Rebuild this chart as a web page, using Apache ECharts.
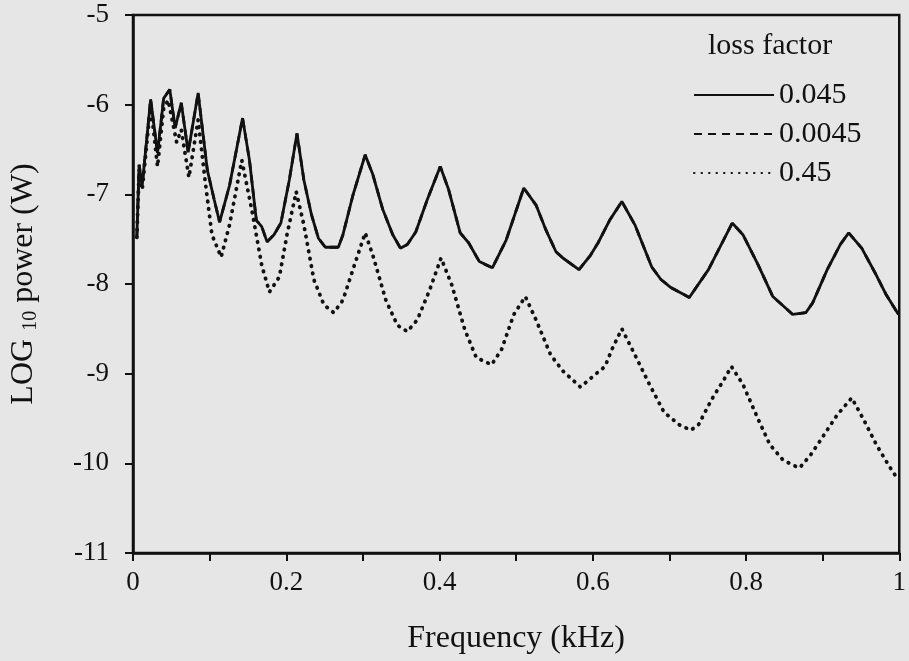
<!DOCTYPE html>
<html>
<head>
<meta charset="utf-8">
<script src="https://cdn.jsdelivr.net/npm/echarts@6/dist/echarts.min.js"></script>
<style>
  html, body { margin: 0; padding: 0; background: #e6e6e6; }
  #chart-container { width: 909px; height: 661px; }
</style>
</head>
<body>
<div id="chart-container"></div>
<script>
'use strict';

// frequency (kHz), log10 power (W)
const freq045 = [0.005, 0.008, 0.012, 0.023, 0.032, 0.040, 0.048, 0.055, 0.063, 0.072, 0.085, 0.097, 0.106, 0.113, 0.126, 0.143, 0.152, 0.161, 0.168, 0.175, 0.184, 0.193, 0.204, 0.214, 0.223, 0.233, 0.242, 0.251, 0.268, 0.274, 0.287, 0.303, 0.313, 0.326, 0.339, 0.349, 0.358, 0.369, 0.384, 0.401, 0.412, 0.427, 0.438, 0.452, 0.469, 0.487, 0.510, 0.526, 0.539, 0.552, 0.561, 0.582, 0.597, 0.607, 0.622, 0.638, 0.655, 0.677, 0.689, 0.702, 0.726, 0.751, 0.782, 0.796, 0.816, 0.835, 0.861, 0.878, 0.887, 0.906, 0.923, 0.934, 0.951, 0.970, 0.983, 0.999];
const power045 = [-7.48, -6.67, -6.90, -5.94, -6.54, -5.93, -5.83, -6.26, -5.98, -6.53, -5.87, -6.73, -7.06, -7.31, -6.90, -6.15, -6.62, -7.29, -7.36, -7.53, -7.45, -7.32, -6.84, -6.32, -6.84, -7.23, -7.49, -7.59, -7.59, -7.45, -7.01, -6.56, -6.78, -7.17, -7.45, -7.60, -7.56, -7.42, -7.06, -6.69, -6.95, -7.43, -7.54, -7.75, -7.82, -7.51, -6.93, -7.12, -7.40, -7.64, -7.71, -7.84, -7.68, -7.54, -7.29, -7.08, -7.34, -7.81, -7.95, -8.04, -8.15, -7.84, -7.32, -7.45, -7.79, -8.14, -8.34, -8.32, -8.21, -7.84, -7.56, -7.43, -7.60, -7.90, -8.12, -8.34];

// 0.0045 lies on top of the 0.045 curve in the picture
const freq0045 = freq045;
const power0045 = power045;

const freq45 = [0.005, 0.008, 0.012, 0.023, 0.032, 0.040, 0.046, 0.057, 0.063, 0.073, 0.085, 0.094, 0.103, 0.115, 0.126, 0.142, 0.155, 0.168, 0.178, 0.191, 0.201, 0.213, 0.223, 0.236, 0.249, 0.262, 0.274, 0.287, 0.303, 0.313, 0.330, 0.345, 0.358, 0.371, 0.387, 0.402, 0.416, 0.433, 0.448, 0.468, 0.481, 0.497, 0.512, 0.526, 0.545, 0.561, 0.584, 0.603, 0.616, 0.625, 0.638, 0.655, 0.674, 0.693, 0.713, 0.728, 0.738, 0.755, 0.771, 0.781, 0.796, 0.816, 0.831, 0.848, 0.861, 0.870, 0.884, 0.899, 0.919, 0.938, 0.954, 0.970, 0.986, 0.996];
const power45 = [-7.48, -6.73, -6.95, -6.00, -6.69, -6.04, -5.95, -6.42, -6.28, -6.81, -6.17, -6.84, -7.45, -7.70, -7.34, -6.62, -7.17, -7.79, -8.09, -7.92, -7.45, -6.97, -7.34, -7.95, -8.23, -8.32, -8.18, -7.84, -7.43, -7.68, -8.18, -8.46, -8.53, -8.40, -8.07, -7.71, -8.01, -8.51, -8.82, -8.90, -8.73, -8.34, -8.14, -8.40, -8.79, -8.97, -9.15, -9.01, -8.92, -8.73, -8.50, -8.79, -9.12, -9.43, -9.57, -9.63, -9.57, -9.29, -9.07, -8.92, -9.12, -9.51, -9.79, -9.96, -10.02, -10.05, -9.91, -9.72, -9.46, -9.27, -9.52, -9.79, -10.02, -10.15];

const legendNames = ['0.045', '0.0045', '0.45'];

function pairs(xs, ys) {
    return xs.map((x, i) => [x, ys[i]]);
}

const serif = 'Liberation Serif';
const ink = '#111';

const myChart = echarts.init(document.getElementById('chart-container'), null, { renderer: 'canvas' });

const option = {
    backgroundColor: '#e6e6e6',
    animation: false,
    color: [ink, ink, ink],
    textStyle: { fontFamily: serif, color: ink },
    title: {
        text: 'loss factor',
        left: 708,
        top: 31,
        padding: 0,
        textStyle: { fontFamily: serif, fontSize: 30, fontWeight: 'normal', color: ink }
    },
    legend: {
        data: legendNames,
        orient: 'vertical',
        left: 693,
        top: 80,
        padding: 0,
        itemWidth: 80,
        itemHeight: 12,
        itemGap: 9,
        itemStyle: { opacity: 0 },
        textStyle: { fontFamily: serif, fontSize: 30, lineHeight: 30, color: ink }
    },
    grid: {
        left: 132,
        right: 1,
        top: 15,
        bottom: 108,
        show: true,
        borderColor: ink,
        borderWidth: 2.5,
        backgroundColor: 'transparent'
    },
    xAxis: {
        type: 'value',
        min: 0,
        max: 1,
        interval: 0.1,
        name: 'Frequency (kHz)',
        nameLocation: 'middle',
        nameGap: 70,
        nameTextStyle: { fontFamily: serif, fontSize: 32, color: ink },
        axisLine: { lineStyle: { color: ink, width: 2.5 } },
        axisTick: { length: 8, lineStyle: { color: ink, width: 2 } },
        splitLine: { show: false },
        axisLabel: {
            margin: 16,
            fontFamily: serif,
            fontSize: 27,
            color: ink,
            showMaxLabel: true,
            formatter: (v) => {
                const k = Math.round(v * 10);
                if (k % 2 !== 0) return '';
                if (k === 0) return '0';
                if (k === 10) return '1';
                return (k / 10).toFixed(1);
            }
        }
    },
    yAxis: {
        type: 'value',
        min: -11,
        max: -5,
        interval: 1,
        name: 'LOG {sub|10} power (W)',
        nameLocation: 'middle',
        nameGap: 92,
        nameTextStyle: {
            fontFamily: serif,
            fontSize: 32,
            color: ink,
            rich: {
                sub: { fontFamily: serif, fontSize: 20, color: ink, padding: [14, 0, 0, 0] }
            }
        },
        axisLine: { lineStyle: { color: ink, width: 2.5 } },
        axisTick: { length: 8, lineStyle: { color: ink, width: 2 } },
        splitLine: { show: false },
        axisLabel: { margin: 24, fontFamily: serif, fontSize: 27, color: ink }
    },
    series: [
        {
            name: '0.0045',
            type: 'line',
            data: pairs(freq0045, power0045),
            symbol: 'none',
            z: 2,
            itemStyle: { color: ink },
            lineStyle: { color: ink, width: 2.8, type: [8, 6] }
        },
        {
            name: '0.045',
            type: 'line',
            data: pairs(freq045, power045),
            symbol: 'none',
            z: 3,
            itemStyle: { color: ink },
            lineStyle: { color: ink, width: 2.8 }
        },
        {
            name: '0.45',
            type: 'line',
            data: pairs(freq45, power45),
            symbol: 'none',
            z: 2,
            itemStyle: { color: ink },
            lineStyle: { color: ink, width: 3.8, type: [0.5, 7], cap: 'round' }
        }
    ]
};

myChart.setOption(option);
window.addEventListener('resize', myChart.resize);
</script>
</body>
</html>
